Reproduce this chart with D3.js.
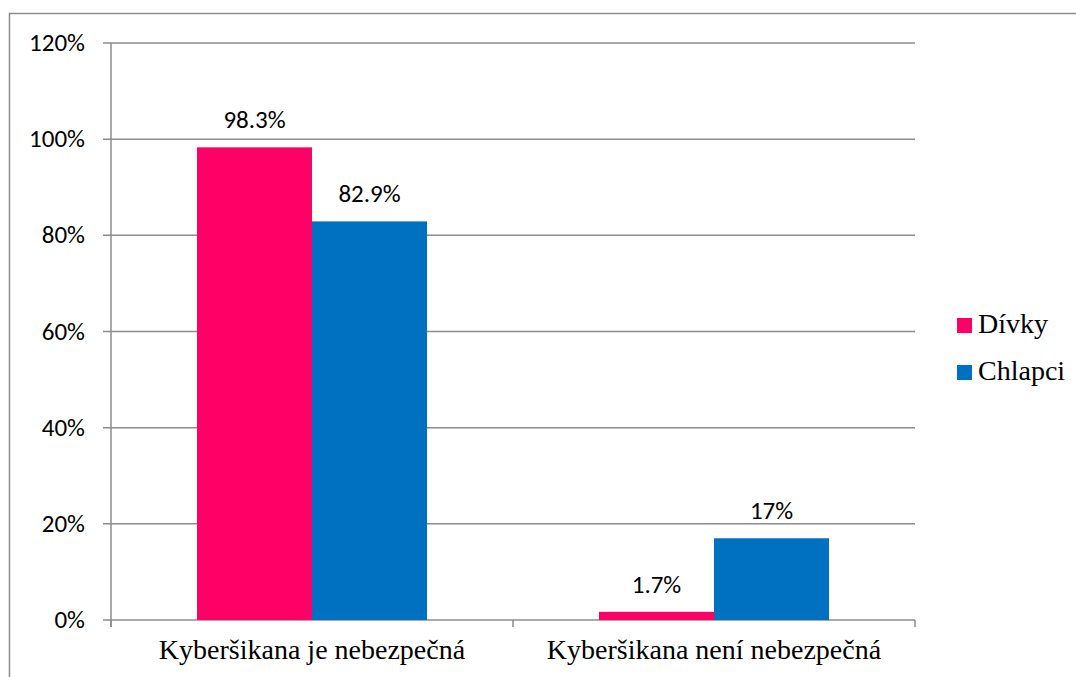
<!DOCTYPE html>
<html><head><meta charset="utf-8">
<script src="https://cdn.jsdelivr.net/npm/d3@7"></script>
<style>body{margin:0;background:#fff}svg{display:block}</style>
</head><body>
<svg id="c" width="1076" height="677"></svg>
<script>
const categories = ["Kyberšikana je nebezpečná", "Kyberšikana není nebezpečná"];
const seriesNames = ["Dívky", "Chlapci"];
const divky = [98.3, 1.7];
const chlapci = [82.9, 17];
const valueLabels = [["98.3%", "82.9%"], ["1.7%", "17%"]];
const yTicks = [0, 20, 40, 60, 80, 100, 120];
const colors = ["#FF0066", "#0070C0"];

(function () {
const svg = d3.select("#c");
const pL = 111, pR = 915, pT = 43, pB = 620;
const sansFont = "Carlito, Lato, sans-serif";
const serifFont = "'Liberation Serif', 'Times New Roman', serif";

// outer border
svg.append("rect").attr("x", 9.5).attr("y", 13.5).attr("width", 1080).attr("height", 700)
  .attr("fill", "none").attr("stroke", "#8c8c8c").attr("stroke-width", 1.5);

const y = d3.scaleLinear().domain([0, 120]).range([pB, pT]);
const x0 = d3.scaleBand().domain(categories).range([pL, pR]).paddingInner(0).paddingOuter(0);
const x1 = d3.scaleBand().domain(seriesNames).range([0, x0.bandwidth()]).paddingInner(0).paddingOuter(0.7475);

// gridlines
svg.append("g").selectAll("line").data(yTicks).join("line")
  .attr("x1", pL - 8).attr("x2", pR).attr("y1", d => y(d)).attr("y2", d => y(d))
  .attr("stroke", "#8c8c8c").attr("stroke-width", 1.5);

// y axis line
svg.append("line").attr("x1", pL).attr("x2", pL).attr("y1", pT).attr("y2", pB + 7)
  .attr("stroke", "#8c8c8c").attr("stroke-width", 1.5);

// y tick labels
svg.append("g").selectAll("text").data(yTicks).join("text")
  .attr("x", 85).attr("y", d => y(d)).attr("dy", "0.32em").attr("text-anchor", "end")
  .attr("font-family", sansFont).attr("font-size", 25).attr("fill", "#000")
  .text(d => d + "%");

// x ticks
const xTickPos = [pL, x0(categories[1]), pR];
svg.append("g").selectAll("line").data(xTickPos).join("line")
  .attr("x1", d => d).attr("x2", d => d).attr("y1", pB).attr("y2", pB + 7)
  .attr("stroke", "#8c8c8c").attr("stroke-width", 1.5);

// bars
const data = categories.map((c, i) => ({ cat: c, vals: [divky[i], chlapci[i]], labels: valueLabels[i] }));
const g = svg.append("g").selectAll("g").data(data).join("g")
  .attr("transform", d => `translate(${x0(d.cat)},0)`);
g.selectAll("rect").data(d => d.vals.map((v, j) => ({ s: seriesNames[j], v, j }))).join("rect")
  .attr("x", d => x1(d.s)).attr("width", x1.bandwidth())
  .attr("y", d => y(d.v)).attr("height", d => y(0) - y(d.v))
  .attr("fill", d => colors[d.j]);
g.selectAll("text").data(d => d.vals.map((v, j) => ({ s: seriesNames[j], v, j, t: d.labels[j] }))).join("text")
  .attr("x", d => x1(d.s) + x1.bandwidth() / 2).attr("y", d => y(d.v) - 19)
  .attr("text-anchor", "middle")
  .attr("font-family", sansFont).attr("font-size", 25).attr("fill", "#000")
  .text(d => d.t);

// category labels
svg.append("g").selectAll("text").data(categories).join("text")
  .attr("x", d => x0(d) + x0.bandwidth() / 2).attr("y", 659).attr("text-anchor", "middle")
  .attr("font-family", serifFont).attr("font-size", 28).attr("fill", "#000")
  .text(d => d);

// legend
const lg = svg.append("g").selectAll("g").data(seriesNames).join("g")
  .attr("transform", (d, i) => `translate(957,${318 + i * 47})`);
lg.append("rect").attr("width", 15).attr("height", 15).attr("fill", (d, i) => colors[i]);
lg.append("text").attr("x", 21).attr("y", 15)
  .attr("font-family", serifFont).attr("font-size", 28).attr("fill", "#000")
  .text(d => d);
})();
</script>
</body></html>
